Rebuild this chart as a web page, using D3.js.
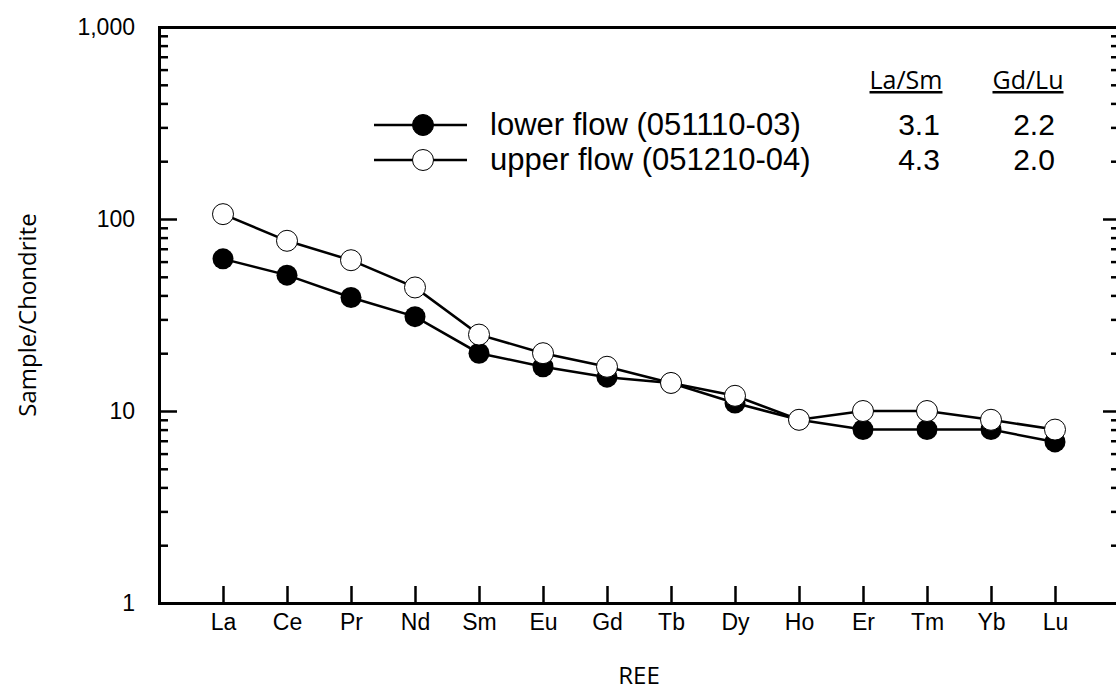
<!DOCTYPE html>
<html>
<head>
<meta charset="utf-8">
<script src="https://cdn.jsdelivr.net/npm/d3@7"></script>
<style>
  body { margin: 0; background: #fff; }
  svg { display: block; }
</style>
</head>
<body>
<div id="ree_vis"></div>
<script>
// chondrite-normalised REE pattern, two flows

const elements = ["La", "Ce", "Pr", "Nd", "Sm", "Eu", "Gd", "Tb", "Dy", "Ho", "Er", "Tm", "Yb", "Lu"];
const lower_flow = [62, 51, 39, 31, 20, 17, 15, 14, 11, 9, 8, 8, 8, 6.9];
const upper_flow = [106, 77, 61, 44, 25, 20, 17, 14, 12, 9, 10, 10, 9, 8];

const legend_labels = ["lower flow (051110-03)", "upper flow (051210-04)"];
const ratio_headers = ["La/Sm", "Gd/Lu"];
const la_sm = ["3.1", "4.3"];
const gd_lu = ["2.2", "2.0"];

const major_ticks = [1, 10, 100, 1000];
const minor_ticks = [2, 3, 4, 5, 6, 7, 8, 9, 20, 30, 40, 50, 60, 70, 80, 90, 200, 300, 400, 500, 600, 700, 800, 900];

const W = 1116, H = 690;
const plotLeft = 159, plotRight = 1119, plotTop = 27, plotBottom = 603;
const sansFont = "'Liberation Sans', Arial, sans-serif";
const titleFont = "'Open Sans', sans-serif";

var svg = d3.select("#ree_vis").append("svg")
    .attr("width", W)
    .attr("height", H);

//scales
var x = d3.scaleLinear()
    .domain([-1, elements.length])
    .range([plotLeft, plotRight]);

var y = d3.scaleLog()
    .domain([1, 1000])
    .range([plotBottom, plotTop]);

//left axis, major with labels
svg.append("g")
    .attr("transform", "translate(" + plotLeft + ",0)")
    .call(d3.axisLeft(y)
        .tickValues(major_ticks)
        .tickFormat(d3.format(","))
        .tickSizeInner(-18)
        .tickSizeOuter(0)
        .tickPadding(24));

//left axis, minor ticks
svg.append("g")
    .attr("transform", "translate(" + plotLeft + ",0)")
    .call(d3.axisLeft(y)
        .tickValues(minor_ticks)
        .tickFormat("")
        .tickSizeInner(-9)
        .tickSizeOuter(0));

//right axis
svg.append("g")
    .attr("transform", "translate(" + plotRight + ",0)")
    .call(d3.axisRight(y)
        .tickValues(major_ticks)
        .tickFormat("")
        .tickSizeInner(-16)
        .tickSizeOuter(0));
svg.append("g")
    .attr("transform", "translate(" + plotRight + ",0)")
    .call(d3.axisRight(y)
        .tickValues(minor_ticks)
        .tickFormat("")
        .tickSizeInner(-8)
        .tickSizeOuter(0));

//bottom axis
svg.append("g")
    .attr("transform", "translate(0," + plotBottom + ")")
    .call(d3.axisBottom(x)
        .tickValues(d3.range(elements.length))
        .tickFormat(function(i) { return elements[i]; })
        .tickSizeInner(-17)
        .tickSizeOuter(0)
        .tickPadding(11));

//top border
svg.append("g")
    .attr("transform", "translate(0," + plotTop + ")")
    .call(d3.axisTop(x)
        .tickValues([])
        .tickSizeOuter(0));

//axis styling
svg.selectAll(".domain")
    .attr("stroke", "#000")
    .attr("stroke-width", 3)
    .attr("stroke-linecap", "square");
svg.selectAll(".tick line")
    .attr("stroke", "#000")
    .attr("stroke-width", 2.5);
svg.selectAll(".tick text")
    .attr("fill", "#000")
    .style("font-family", sansFont)
    .style("font-size", "23px");

//axis titles
svg.append("text")
    .attr("text-anchor", "middle")
    .attr("transform", "translate(36,315) rotate(-90)")
    .style("font-family", titleFont)
    .style("font-size", "24px")
    .text("Sample/Chondrite");

svg.append("text")
    .attr("text-anchor", "middle")
    .attr("x", (plotLeft + plotRight) / 2)
    .attr("y", 684)
    .style("font-family", titleFont)
    .style("font-size", "24px")
    .text("REE");

//lines
var line = d3.line()
    .x(function(d, i) { return x(i); })
    .y(function(d) { return y(d); });

[lower_flow, upper_flow].forEach(function(series) {
    svg.append("path")
        .datum(series)
        .attr("d", line)
        .attr("fill", "none")
        .attr("stroke", "#000")
        .attr("stroke-width", 2.5);
});

//points, filled first so open circles sit on top
svg.append("g")
    .selectAll("circle")
    .data(lower_flow)
    .enter()
    .append("circle")
        .attr("cx", function(d, i) { return x(i); })
        .attr("cy", function(d) { return y(d); })
        .attr("r", 10.5)
        .attr("fill", "#000");

svg.append("g")
    .selectAll("circle")
    .data(upper_flow)
    .enter()
    .append("circle")
        .attr("cx", function(d, i) { return x(i); })
        .attr("cy", function(d) { return y(d); })
        .attr("r", 10.5)
        .attr("fill", "#fff")
        .attr("stroke", "#000")
        .attr("stroke-width", 1);

//legend
var legendY = [125, 160];
var legend = svg.append("g");

legend_labels.forEach(function(label, i) {
    legend.append("line")
        .attr("x1", 374)
        .attr("x2", 467)
        .attr("y1", legendY[i])
        .attr("y2", legendY[i])
        .attr("stroke", "#000")
        .attr("stroke-width", 2.5);
    legend.append("circle")
        .attr("cx", 423)
        .attr("cy", legendY[i])
        .attr("r", 10.5)
        .attr("fill", i == 0 ? "#000" : "#fff")
        .attr("stroke", "#000")
        .attr("stroke-width", 1);
    legend.append("text")
        .attr("x", 490)
        .attr("y", legendY[i] + 10)
        .style("font-family", sansFont)
        .style("font-size", "31px")
        .text(label);
    legend.append("text")
        .attr("x", 919)
        .attr("y", legendY[i] + 10)
        .attr("text-anchor", "middle")
        .style("font-family", sansFont)
        .style("font-size", "30px")
        .text(la_sm[i]);
    legend.append("text")
        .attr("x", 1034)
        .attr("y", legendY[i] + 10)
        .attr("text-anchor", "middle")
        .style("font-family", sansFont)
        .style("font-size", "30px")
        .text(gd_lu[i]);
});

//ratio headers
var headerX = [906, 1028];
ratio_headers.forEach(function(h, i) {
    legend.append("text")
        .attr("x", headerX[i])
        .attr("y", 89)
        .attr("text-anchor", "middle")
        .style("font-family", titleFont)
        .style("font-size", "25px")
        .style("text-decoration", "underline")
        .text(h);
});
</script>
</body>
</html>
